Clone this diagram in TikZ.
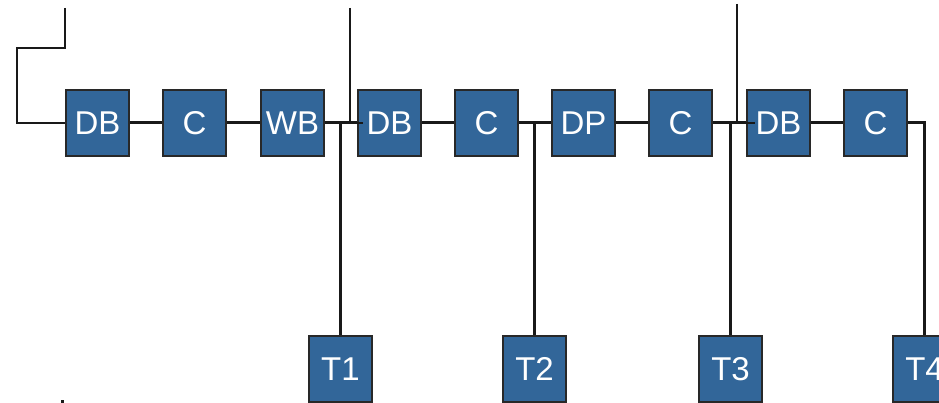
\documentclass[tikz,border=0pt]{standalone}
\usepackage{fontspec}
\setmainfont{Liberation Sans}
\definecolor{boxblue}{RGB}{50,102,153}
\definecolor{boxedge}{RGB}{40,40,40}
\definecolor{wire}{RGB}{25,25,25}
\begin{document}
\begin{tikzpicture}[x=1pt,y=-1pt,
  blk/.style={draw=boxedge, fill=boxblue, line width=1.8pt,
    minimum width=63.5pt, minimum height=66.5pt, inner sep=0pt,
    text=white, font=\fontsize{33}{33}\selectfont},
  bus/.style={draw=wire, line width=3pt},
  feed/.style={draw=wire, line width=1.5pt}]
\useasboundingbox (0,0) rectangle (939,403);

% main chain
\node[blk] (db1) at (97.5,123) {DB};
\node[blk] (c1)  at (194.5,123) {C};
\node[blk] (wb)  at (292.5,123) {WB};
\node[blk] (db2) at (389.5,123) {DB};
\node[blk] (c2)  at (486.5,123) {C};
\node[blk] (dp)  at (583.5,123) {DP};
\node[blk] (c3)  at (680.5,123) {C};
\node[blk] (db3) at (778.5,123) {DB};
\node[blk] (c4)  at (875.5,123) {C};

% taps
\node[blk] (t1) at (340.5,369) {T1};
\node[blk] (t2) at (534.5,369) {T2};
\node[blk] (t3) at (730.5,369) {T3};
\node[blk] (t4) at (924.5,369) {T4};

% junctions and feed ends
\coordinate (j1) at (340.5,123);
\coordinate (j2) at (534.5,123);
\coordinate (j3) at (730.5,123);
\coordinate (j4) at (924.5,123);
\coordinate (f0) at (65,8);
\coordinate (f1) at (350,8);
\coordinate (f1b) at (350,123);
\coordinate (f2) at (737,4);
\coordinate (f2b) at (737,123);

% incoming feeds
\draw[feed] (f0) -- (65,48) -- (17,48) -- (17,123) -- (db1.west);
\draw[feed] (f1) -- (f1b) -- ([xshift=6pt]db2.west);
\draw[feed] (f2) -- (f2b) -- ([xshift=9pt]db3.west);

% bus links
\draw[bus] (db1) -- (c1);
\draw[bus] (c1) -- (wb);
\draw[bus] (wb) -- (db2);
\draw[bus] (db2) -- (c2);
\draw[bus] (c2) -- (dp);
\draw[bus] (dp) -- (c3);
\draw[bus] (c3) -- (db3);
\draw[bus] (db3) -- (c4);
\draw[bus] (c4.east) -- ([xshift=1.5pt]j4);

% drops to taps
\draw[bus] (j1) -- (t1.north);
\draw[bus] (j2) -- (t2.north);
\draw[bus] (j3) -- (t3.north);
\draw[bus] (j4) -- (t4.north);

\fill[wire] (61,400) rectangle (63.5,402.5);
\end{tikzpicture}
\end{document}
